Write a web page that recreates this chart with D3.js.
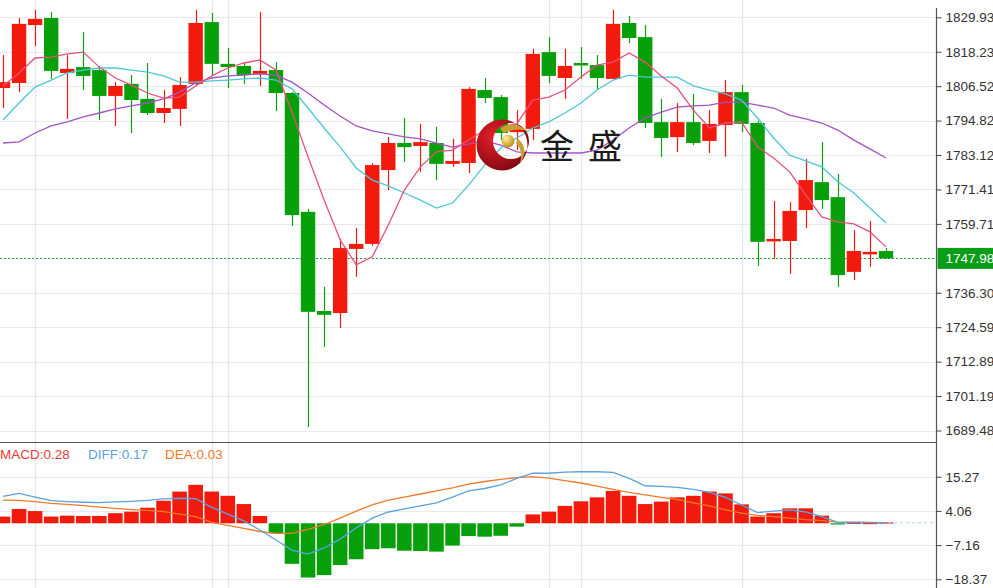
<!DOCTYPE html>
<html><head><meta charset="utf-8">
<script src="https://cdn.jsdelivr.net/npm/d3@7"></script>
<style>body{margin:0;background:#fff;overflow:hidden}svg{display:block}</style>
</head><body><svg id="c" width="993" height="588"></svg>
<script>
// ---------------- DATA ----------------
const open  = [1805.9,1807.6,1827.3,1829.7,1811.0,1813.0,1812.0,1803.2,1807.3,1802.2,1797.4,1798.8,1807.3,1828.3,1814.1,1813.4,1810.7,1812.0,1804.2,1763.8,1730.1,1729.4,1751.2,1752.9,1778.0,1787.2,1786.2,1787.2,1780.1,1780.4,1805.2,1802.8,1790.9,1792.0,1818.1,1809.3,1814.4,1813.7,1809.0,1828.0,1823.2,1794.3,1789.2,1794.3,1787.9,1793.3,1804.5,1794.0,1753.9,1753.9,1764.4,1773.9,1768.8,1743.4,1749.5,1750.5];
const high  = [1817.1,1829.7,1832.4,1831.7,1817.1,1824.9,1813.4,1807.9,1810.3,1814.4,1805.2,1809.6,1832.4,1831.4,1819.5,1814.7,1831.7,1814.7,1804.5,1764.8,1738.3,1754.6,1758.3,1780.4,1789.3,1795.7,1793.7,1792.7,1788.6,1806.2,1809.3,1803.5,1798.4,1819.2,1823.2,1819.2,1819.8,1817.1,1832.4,1830.4,1827.3,1802.2,1800.8,1803.9,1798.4,1808.6,1806.9,1794.7,1767.5,1767.1,1781.8,1787.5,1776.7,1757.6,1760.7,1751.5];
const low   = [1799.1,1804.5,1820.2,1809.0,1795.4,1805.2,1795.0,1793.0,1790.6,1796.7,1794.0,1793.0,1806.9,1810.3,1805.9,1807.3,1806.6,1798.1,1759.0,1690.7,1717.9,1724.3,1741.7,1752.2,1771.2,1780.8,1777.4,1774.6,1779.1,1777.0,1800.8,1788.2,1784.8,1788.2,1807.6,1802.2,1809.0,1805.2,1809.0,1821.2,1792.3,1782.5,1784.1,1786.5,1783.8,1782.5,1790.9,1745.4,1747.8,1742.7,1758.3,1764.8,1738.3,1740.6,1745.1,1747.98];
const close = [1807.9,1827.7,1829.4,1811.7,1812.4,1810.0,1803.2,1806.6,1801.8,1797.4,1799.1,1806.9,1828.0,1814.1,1813.0,1810.3,1811.7,1804.2,1762.7,1729.8,1728.8,1751.5,1752.9,1779.7,1787.2,1785.8,1787.5,1780.1,1781.1,1805.6,1802.5,1790.6,1792.3,1817.5,1810.0,1813.4,1813.7,1809.3,1827.7,1822.9,1794.0,1788.9,1794.3,1787.2,1793.7,1804.5,1793.7,1753.6,1754.6,1764.1,1774.6,1767.8,1742.3,1750.5,1750.2,1747.98];

const ma5  = [1806.6,1811.0,1816.1,1816.4,1817.5,1818.1,1813.0,1809.3,1806.9,1804.2,1802.5,1802.8,1806.6,1810.0,1812.7,1814.4,1815.4,1812.0,1797.7,1782.5,1767.8,1754.3,1745.8,1748.5,1759.3,1771.2,1779.1,1784.2,1784.8,1788.2,1791.6,1792.7,1793.7,1801.8,1802.8,1805.2,1809.6,1813.7,1814.7,1817.8,1814.7,1810.0,1805.9,1798.4,1792.3,1794.0,1794.4,1785.9,1782.1,1777.4,1769.5,1762.1,1760.4,1759.7,1757.0,1751.9];
const ma10 = [1795.0,1800.8,1806.2,1808.6,1811.0,1812.0,1812.7,1812.7,1812.0,1811.3,1810.0,1807.9,1807.9,1808.3,1808.6,1809.0,1809.3,1808.6,1805.6,1799.1,1792.3,1785.9,1778.7,1774.6,1772.6,1770.2,1767.8,1765.1,1766.8,1772.9,1779.7,1785.5,1788.9,1792.3,1794.4,1797.4,1800.8,1805.2,1808.6,1810.3,1809.6,1809.6,1809.6,1806.6,1805.2,1803.9,1801.8,1795.7,1788.9,1783.1,1781.1,1779.1,1774.0,1770.2,1765.1,1760.0];
const ma20 = [1787.2,1787.6,1790.6,1793.0,1794.4,1796.1,1797.4,1798.8,1799.8,1800.8,1802.2,1804.5,1807.6,1809.3,1810.0,1810.3,1810.7,1810.3,1807.9,1804.2,1800.1,1796.4,1793.0,1791.3,1790.3,1789.3,1788.6,1787.2,1785.8,1786.9,1787.9,1786.5,1784.2,1783.8,1783.8,1783.8,1783.8,1784.8,1788.2,1792.3,1795.7,1797.7,1799.4,1799.8,1800.1,1801.1,1801.1,1800.1,1799.1,1796.7,1795.4,1794.0,1791.6,1788.2,1785.2,1782.1];

const macdHist = [2.2,4.7,4.0,2.2,2.5,2.4,2.4,3.3,3.8,5.1,7.4,10.4,12.6,10.4,9.0,6.3,2.4,-3.3,-13.3,-17.8,-17.0,-13.7,-11.8,-8.5,-8.2,-9.0,-9.1,-9.3,-7.3,-4.2,-4.4,-4.1,-1.1,2.9,3.8,5.7,7.2,8.5,10.6,9.0,6.3,7.1,8.5,9.0,10.4,9.8,6.2,2.2,3.3,4.9,4.9,2.5,-0.4,0.2,0.1,0.28];
const diff = [8.8,9.8,8.6,7.4,7.1,6.9,6.8,7.0,7.2,7.5,8.0,8.2,8.1,5.2,3.0,0.8,-2.2,-5.5,-8.8,-10.1,-8.1,-5.2,-1.5,1.7,3.7,4.7,5.7,6.7,8.6,10.6,11.4,12.6,14.7,16.4,16.4,16.8,16.9,16.9,16.7,14.7,12.3,12.1,11.8,11.1,10.1,8.5,6.0,3.5,4.0,4.4,3.7,2.2,0.3,0.4,0.3,0.17];
const dea  = [7.6,7.5,7.1,6.5,6.2,5.8,5.3,4.9,4.5,4.2,3.8,3.0,2.2,0.3,-0.7,-1.7,-2.7,-3.3,-3.3,-2.0,-0.4,1.7,4.0,6.0,7.6,8.6,9.6,10.6,11.6,12.8,13.7,14.4,15.0,15.3,14.8,14.0,13.2,12.2,11.1,10.1,9.3,8.5,7.8,6.7,5.7,4.4,3.3,2.6,2.2,1.7,1.2,0.9,0.4,0.3,0.2,0.03];

const priceTicks = [1829.93,1818.23,1806.52,1794.82,1783.12,1771.41,1759.71,1747.98,1736.30,1724.59,1712.89,1701.19,1689.48];
const macdTicks  = [15.27,4.06,-7.16,-18.37];
const gridCandles = [3,14,15,35,37,47];   // candles that carry a vertical grid line
const lastPrice = 1747.98;
const legend = [{label:"MACD",value:0.28},{label:"DIFF",value:0.17},{label:"DEA",value:0.03}];
const logoText = ["金","盛"];

// ---------------- STYLE ----------------
const W = 993, H = 588, axisX = 936.5;
const RED = "#f21a0c", GREEN = "#08a00a";
const svg = d3.select("#c");

const x  = d3.scaleLinear().domain([0, open.length - 1]).range([3, 886]);
const y  = d3.scaleLinear().domain([1689.48, 1829.93]).range([430.5, 17.3]);
const ym = d3.scaleLinear().domain([-18.37, 15.27]).range([579.3, 476.7]);
const crisp = v => Math.round(v) + 0.5;

// grid
const grid = svg.append("g");
grid.selectAll(".hp").data(priceTicks).join("line")
  .attr("x1", 0).attr("x2", axisX).attr("y1", d => crisp(y(d))).attr("y2", d => crisp(y(d)))
  .attr("stroke", "#e7eaee").attr("stroke-width", 1.2);
grid.selectAll(".hm").data(macdTicks).join("line")
  .attr("x1", 0).attr("x2", axisX).attr("y1", d => crisp(ym(d))).attr("y2", d => crisp(ym(d)))
  .attr("stroke", "#e7eaee").attr("stroke-width", 1.2);
grid.selectAll(".v").data(gridCandles).join("line")
  .attr("x1", d => crisp(x(d - 1))).attr("x2", d => crisp(x(d - 1)))
  .attr("y1", 0).attr("y2", H).attr("stroke", "#e4e8ee").attr("stroke-width", 1.3);

// current price dotted line
svg.append("line").attr("x1", 0).attr("x2", axisX)
  .attr("y1", crisp(y(lastPrice))).attr("y2", crisp(y(lastPrice)))
  .attr("stroke", "#1e9e3c").attr("stroke-dasharray", "2,2");

// candles
const idx = open.map((d, i) => i);
const cg = svg.append("g");
cg.selectAll(".wick").data(idx).join("line")
  .attr("x1", i => crisp(x(i))).attr("x2", i => crisp(x(i)))
  .attr("y1", i => y(high[i])).attr("y2", i => y(low[i]))
  .attr("stroke", i => close[i] >= open[i] ? RED : GREEN).attr("stroke-width", 1.2);
cg.selectAll(".body").data(idx).join("rect")
  .attr("x", i => x(i) - 7.2).attr("width", 14.4)
  .attr("y", i => y(Math.max(open[i], close[i])))
  .attr("height", i => Math.max(2.5, Math.abs(y(open[i]) - y(close[i]))))
  .attr("fill", i => close[i] >= open[i] ? RED : GREEN);

// moving averages
const line = d3.line().x((d, i) => x(i)).y(d => y(d));
[[ma20, "#a452c4"], [ma10, "#4ec6d6"], [ma5, "#e8507e"]].forEach(([s, c]) => {
  svg.append("path").datum(s).attr("d", line).attr("fill", "none")
    .attr("stroke", c).attr("stroke-width", 1.3);
});

// logo watermark
const defs = svg.append("defs");
const rg = defs.append("radialGradient").attr("id", "lr").attr("cx", "35%").attr("cy", "35%").attr("r", "75%");
rg.append("stop").attr("offset", "0%").attr("stop-color", "#e8202a");
rg.append("stop").attr("offset", "100%").attr("stop-color", "#7a0610");
const gg = defs.append("radialGradient").attr("id", "lg").attr("cx", "35%").attr("cy", "30%").attr("r", "70%");
gg.append("stop").attr("offset", "0%").attr("stop-color", "#fff4a8");
gg.append("stop").attr("offset", "100%").attr("stop-color", "#c09018");
const logo = svg.append("g").attr("transform", "translate(502,145)");
const outer = d3.path(); outer.arc(0, 0, 25.5, 0, 2 * Math.PI);
const inner = d3.path(); inner.moveTo(27, -4); inner.arc(9, -4, 18, 0, 2 * Math.PI);
logo.append("path").attr("d", outer.toString() + inner.toString())
  .attr("fill", "url(#lr)").attr("fill-rule", "evenodd");
logo.append("path").attr("d", "M-2,-16 Q10,-26 26,-14 Q14,-18 2,-12 Z").attr("fill", "#c9a132");
logo.append("path").attr("d", "M16,-6 Q28,4 18,18 Q22,6 14,-2 Z").attr("fill", "#c9a132");
logo.append("circle").attr("cx", 6).attr("cy", -4).attr("r", 6.5).attr("fill", "url(#lg)");
svg.selectAll(".lt").data(logoText).join("text")
  .attr("x", (d, i) => 540 + i * 48).attr("y", 159)
  .attr("font-family", "'Noto Sans CJK SC', sans-serif").attr("font-size", 34)
  .attr("fill", "#1a1a1a").text(d => d);

// MACD histogram
const mg = svg.append("g");
mg.selectAll("rect").data(idx).join("rect")
  .attr("x", i => x(i) - 7.3).attr("width", 14.6)
  .attr("y", i => ym(Math.max(0, macdHist[i])))
  .attr("height", i => Math.max(1.2, Math.abs(ym(macdHist[i]) - ym(0))))
  .attr("fill", i => macdHist[i] >= 0 ? RED : GREEN);
const mline = d3.line().x((d, i) => x(i)).y(d => ym(d));
svg.append("path").datum(dea).attr("d", mline).attr("fill", "none").attr("stroke", "#f07a28").attr("stroke-width", 1.3);
svg.append("path").datum(diff).attr("d", mline).attr("fill", "none").attr("stroke", "#5aa2e0").attr("stroke-width", 1.3);
svg.append("line").attr("x1", x(diff.length - 1) + 2).attr("x2", axisX)
  .attr("y1", ym(diff[diff.length - 1])).attr("y2", ym(diff[diff.length - 1]))
  .attr("stroke", "#a8dbe8").attr("stroke-dasharray", "3,3");

// separator and axis line
svg.append("line").attr("x1", 0).attr("x2", axisX).attr("y1", 442.5).attr("y2", 442.5).attr("stroke", "#555").attr("stroke-width", 1.2);
svg.append("line").attr("x1", axisX).attr("x2", axisX).attr("y1", 8).attr("y2", H).attr("stroke", "#555").attr("stroke-width", 1.2);

// axes
const pa = svg.append("g").attr("transform", `translate(${axisX},0)`)
  .call(d3.axisRight(y).tickValues(priceTicks.filter(t => t !== lastPrice)).tickSize(5).tickPadding(4).tickFormat(d3.format(".2f")));
const ma = svg.append("g").attr("transform", `translate(${axisX},0)`)
  .call(d3.axisRight(ym).tickValues(macdTicks).tickSize(5).tickPadding(4).tickFormat(d3.format(".2f")));
[pa, ma].forEach(a => {
  a.select(".domain").remove();
  a.selectAll("line").attr("stroke", "#444");
  a.selectAll("text").attr("font-family", "'Liberation Sans', Arial, sans-serif").attr("font-size", 13.5).attr("fill", "#333");
});

// current price label
svg.append("rect").attr("x", axisX + 1).attr("y", y(lastPrice) - 10.5).attr("width", W - axisX).attr("height", 21).attr("fill", "#0a9e18");
svg.append("text").attr("x", axisX + 9).attr("y", y(lastPrice) + 5)
  .attr("font-family", "'Liberation Sans', Arial, sans-serif").attr("font-size", 13.5).attr("fill", "#fff")
  .text(d3.format(".2f")(lastPrice));

// legend
const legColors = ["#ec3a3a", "#5aa2e0", "#f07a28"];
const legX = [0, 88, 165];
svg.selectAll(".leg").data(legend).join("text")
  .attr("x", (d, i) => legX[i]).attr("y", 459)
  .attr("font-family", "'Liberation Sans', Arial, sans-serif").attr("font-size", 13.5)
  .attr("fill", (d, i) => legColors[i]).text(d => `${d.label}:${d3.format(".2f")(d.value)}`);
</script></body></html>
